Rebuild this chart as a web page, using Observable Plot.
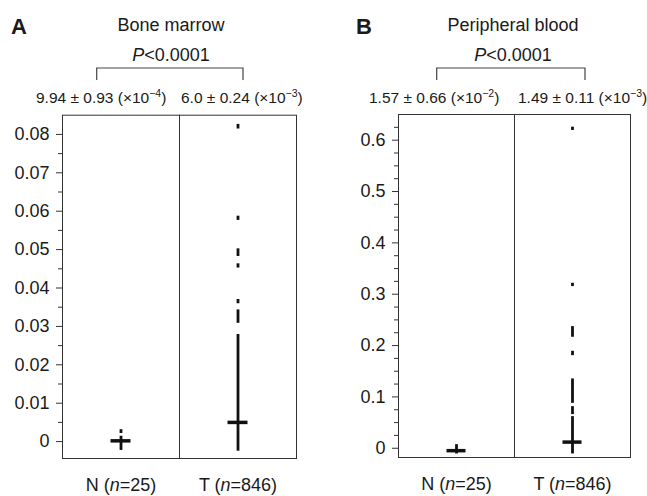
<!DOCTYPE html>
<html><head><meta charset="utf-8">
<script src="https://cdn.jsdelivr.net/npm/d3@7"></script>
<script src="https://cdn.jsdelivr.net/npm/@observablehq/plot@0.6"></script>
<style>
body{margin:0;background:#fff;}
#chart{display:flex;width:647px;height:496px;}
svg{overflow:visible}
</style></head><body><div id="chart"></div>
<script>
// ---- data ----
const groups = ["N", "T"];
const groupLabels = ["N (n=25)", "T (n=846)"];

// Bone marrow: vertical extents of drawn values [low, high]
const marrowRangesN = [[0.0021, 0.0031], [-0.0023, 0.0014]];
const marrowRangesT = [[0.0814, 0.0826], [0.0576, 0.0587], [0.0482, 0.0502], [0.0452, 0.0463], [0.0359, 0.0370], [0.0308, 0.0343], [-0.0025, 0.0279]];
const marrowMeans = [0.0002, 0.0050];
const marrowTicks = [0, 0.01, 0.02, 0.03, 0.04, 0.05, 0.06, 0.07, 0.08];
const marrowMinorTicks = [0.005, 0.015, 0.025, 0.035, 0.045, 0.055, 0.065, 0.075];
const marrowStats = [["9.94 ± 0.93 (×10", "−4"], ["6.0 ± 0.24 (×10", "−3"]];

// Peripheral blood
const bloodRangesN = [[-0.0111, 0.0070]];
const bloodRangesT = [[0.6189, 0.6253], [0.3149, 0.3213], [0.2161, 0.2369], [0.1804, 0.1888], [0.0875, 0.1350], [0.0655, 0.0811], [-0.0111, 0.0616]];
const bloodMeans = [-0.0047, 0.012];
const bloodTicks = [0, 0.1, 0.2, 0.3, 0.4, 0.5, 0.6];
const bloodMinorTicks = [0.025, 0.05, 0.075, 0.125, 0.15, 0.175, 0.225, 0.25, 0.275, 0.325, 0.35, 0.375, 0.425, 0.45, 0.475, 0.525, 0.55, 0.575, 0.625];
const bloodStats = [["1.57 ± 0.66 (×10", "−2"], ["1.49 ± 0.11 (×10", "−3"]];

const FONT = "'Liberation Sans', Arial, Helvetica, sans-serif";

function panel(cfg) {
  const rows = [];
  cfg.ranges.forEach((rs, gi) => rs.forEach(([lo, hi]) => rows.push({group: groups[gi], lo, hi})));
  const means = cfg.means.map((m, i) => ({group: groups[i], mean: m}));
  const fmt = d => d === 0 ? "0" : d3.format(cfg.fmt)(d);
  const svg = Plot.plot({
    width: cfg.width, height: 496,
    marginTop: cfg.top, marginBottom: 496 - cfg.bottom,
    marginLeft: cfg.left, marginRight: cfg.width - cfg.right,
    style: {fontFamily: FONT, fontSize: "18px", color: "#1a1a1a", background: "white", overflow: "visible"},
    y: {domain: cfg.domain},
    fx: {domain: groups, padding: 0, axis: "bottom", label: null, tickSize: 0, tickPadding: 20,
         tickFormat: g => groupLabels[groups.indexOf(g)]},
    marks: [
      Plot.frame({stroke: "#333"}),
      Plot.axisY({ticks: cfg.ticks, tickSize: 6, tickPadding: 7, tickFormat: fmt, label: null, stroke: "#333"}),
      Plot.axisY({ticks: cfg.minor, tickSize: 4, tickFormat: () => "", label: null, stroke: "#333"}),
      Plot.ruleX(rows, {fx: "group", x: null, y1: "lo", y2: "hi", stroke: "#111", strokeWidth: 2.8}),
      Plot.tickY(means, {fx: "group", y: "mean", stroke: "#111", strokeWidth: 3.5, insetLeft: 48.5, insetRight: 48.5})
    ]
  });
  const s = d3.select(svg);
  // italic n in group labels
  s.selectAll("text").each(function() {
    const t = this.textContent;
    const m = t.match(/^(.*\()n(=.*)$/);
    if (m) {
      const el = d3.select(this);
      el.text("");
      el.append("tspan").text(m[1]);
      el.append("tspan").attr("font-style", "italic").text("n");
      el.append("tspan").text(m[2]);
    }
  });
  const g = s.append("g").attr("font-family", FONT).attr("fill", "#1a1a1a");
  g.append("text").attr("x", cfg.letterX).attr("y", 34).attr("text-anchor", "start")
    .attr("font-size", 22).attr("font-weight", "bold").text(cfg.letter);
  g.append("text").attr("x", cfg.titleX).attr("y", 31).attr("text-anchor", "middle").attr("font-size", 18).text(cfg.title);
  const p = g.append("text").attr("x", cfg.titleX).attr("y", 61).attr("text-anchor", "middle").attr("font-size", 18);
  p.append("tspan").attr("font-style", "italic").text("P");
  p.append("tspan").text("<0.0001");
  g.append("path").attr("d", `M${cfg.br[0]},80V68H${cfg.br[1]}V80`).attr("fill", "none").attr("stroke", "#444").attr("stroke-width", 1.2);
  cfg.stats.forEach(([main, exp], i) => {
    const t = g.append("text").attr("x", cfg.statX[i]).attr("y", 103).attr("text-anchor", "start").attr("font-size", 15.5);
    t.append("tspan").text(main);
    t.append("tspan").attr("dy", -6).attr("font-size", 10.5).text(exp);
    t.append("tspan").attr("dy", 6).attr("font-size", 15.5).text(")");
  });
  return svg;
}

const chart = document.getElementById("chart");
chart.append(panel({
  width: 323, left: 62, right: 296, top: 114.7, bottom: 458,
  domain: [-0.0044, 0.085], fmt: ".2f",
  ticks: marrowTicks, minor: marrowMinorTicks,
  ranges: [marrowRangesN, marrowRangesT], means: marrowMeans,
  letter: "A", letterX: 11, title: "Bone marrow", titleX: 171,
  br: [96.7, 243], stats: marrowStats, statX: [36, 181]
}));
chart.append(panel({
  width: 324, left: 74.7, right: 308, top: 114, bottom: 457,
  domain: [-0.018, 0.65], fmt: ".1f",
  ticks: bloodTicks, minor: bloodMinorTicks,
  ranges: [bloodRangesN, bloodRangesT], means: bloodMeans,
  letter: "B", letterX: 33, title: "Peripheral blood", titleX: 190,
  br: [113.7, 262], stats: bloodStats, statX: [46, 195]
}));
</script></body></html>
